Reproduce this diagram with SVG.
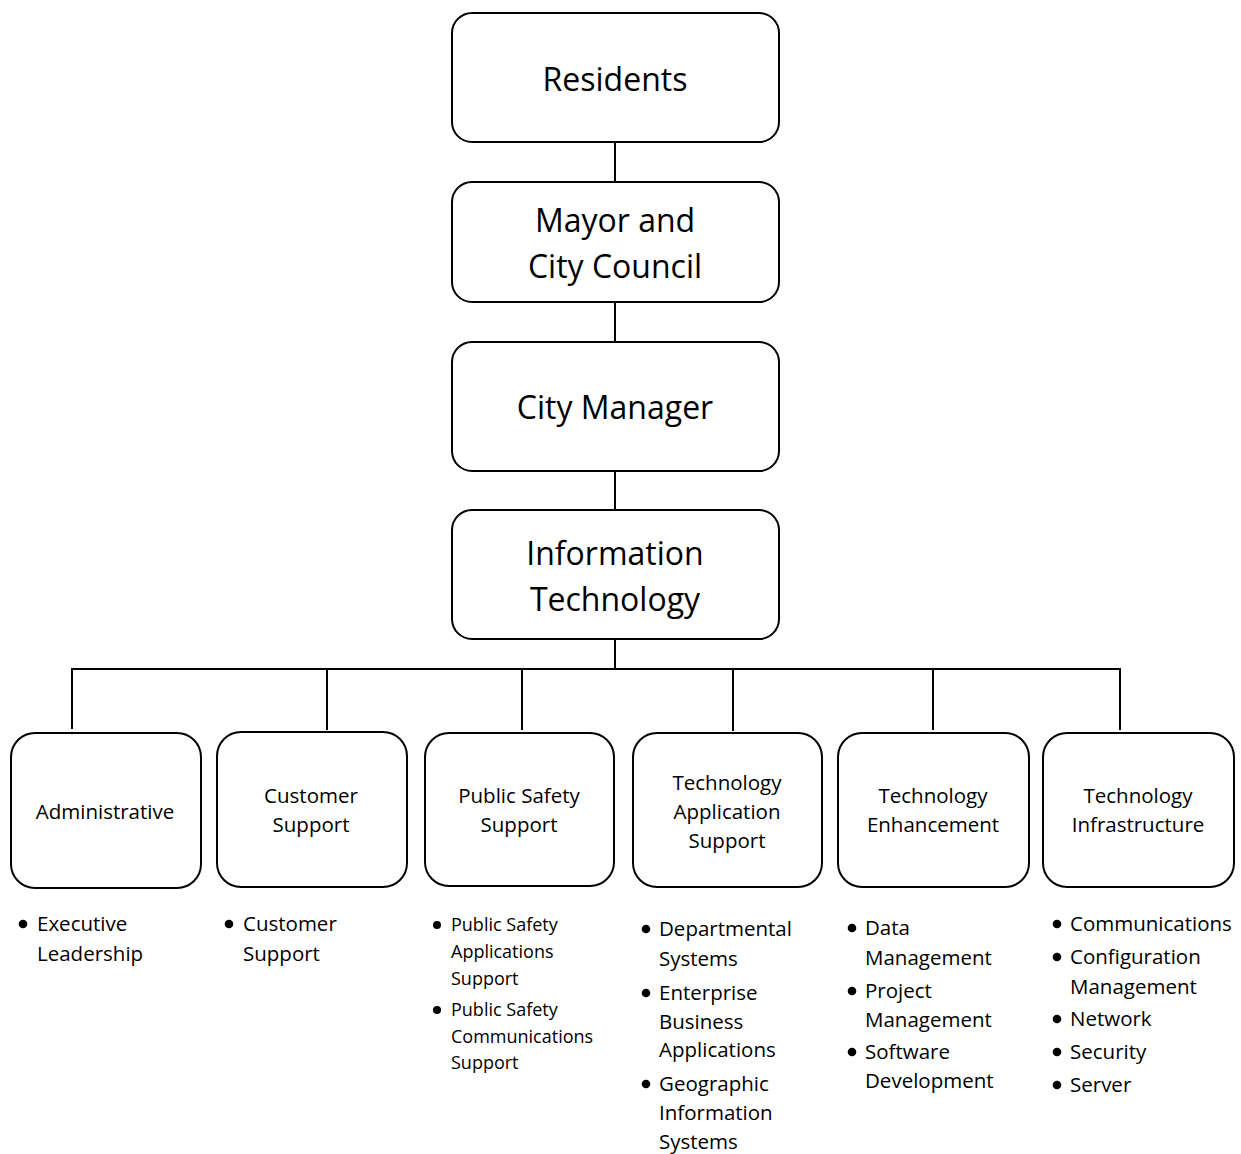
<svg xmlns="http://www.w3.org/2000/svg" width="1241" height="1154" viewBox="0 0 1241 1154">
<style>
.box{fill:#fff;stroke:#000;stroke-width:2}
.conn{stroke:#000;stroke-width:2;fill:none}
text{font-family:"Open Sans",Lato,"Liberation Sans",sans-serif;fill:#000}
.big{font-size:32px;text-anchor:middle}
.mid{font-size:20.5px;text-anchor:middle}
.li{font-size:20.5px}
.sm{font-size:18px}
</style>
<rect width="1241" height="1154" fill="#fff"/>
<g id="connectors">
<line class="conn" x1="615" y1="142" x2="615" y2="182"/>
<line class="conn" x1="615" y1="302" x2="615" y2="342"/>
<line class="conn" x1="615" y1="471" x2="615" y2="510"/>
<line class="conn" x1="615" y1="639" x2="615" y2="669"/>
<line class="conn" x1="71" y1="669" x2="1121" y2="669"/>
<line class="conn" x1="72" y1="669" x2="72" y2="729"/>
<line class="conn" x1="327" y1="669" x2="327" y2="730"/>
<line class="conn" x1="522" y1="669" x2="522" y2="730"/>
<line class="conn" x1="733" y1="669" x2="733" y2="731"/>
<line class="conn" x1="933" y1="669" x2="933" y2="730"/>
<line class="conn" x1="1120" y1="669" x2="1120" y2="730"/>
</g>
<g id="residents">
<rect class="box" x="452" y="13" width="327" height="129" rx="20"/>
<text class="big" x="615" y="91">Residents</text>
</g>
<g id="mayor">
<rect class="box" x="452" y="182" width="327" height="120" rx="20"/>
<text class="big" x="615" y="232">Mayor and</text>
<text class="big" x="615" y="278">City Council</text>
</g>
<g id="manager">
<rect class="box" x="452" y="342" width="327" height="129" rx="20"/>
<text class="big" x="615" y="419">City Manager</text>
</g>
<g id="it">
<rect class="box" x="452" y="510" width="327" height="129" rx="20"/>
<text class="big" x="615" y="565">Information</text>
<text class="big" x="615" y="611">Technology</text>
</g>
<g id="administrative">
<rect class="box" x="11" y="733" width="190" height="155" rx="24"/>
<text class="mid" x="105" y="819">Administrative</text>
<circle cx="23" cy="924" r="4.3"/>
<text class="li" x="37" y="931">Executive</text>
<text class="li" x="37" y="961">Leadership</text>
</g>
<g id="customer-support">
<rect class="box" x="217" y="732" width="190" height="155" rx="24"/>
<text class="mid" x="311" y="803">Customer</text>
<text class="mid" x="311" y="832">Support</text>
<circle cx="229" cy="924" r="4.3"/>
<text class="li" x="243" y="931">Customer</text>
<text class="li" x="243" y="961">Support</text>
</g>
<g id="public-safety-support">
<rect class="box" x="425" y="733" width="189" height="153" rx="24"/>
<text class="mid" x="519" y="803">Public Safety</text>
<text class="mid" x="519" y="832">Support</text>
<circle cx="437" cy="925" r="4"/>
<text class="sm" x="451" y="931">Public Safety</text>
<text class="sm" x="451" y="958">Applications</text>
<text class="sm" x="451" y="985">Support</text>
<circle cx="437" cy="1010" r="4"/>
<text class="sm" x="451" y="1016">Public Safety</text>
<text class="sm" x="451" y="1043">Communications</text>
<text class="sm" x="451" y="1069">Support</text>
</g>
<g id="tech-app-support">
<rect class="box" x="633" y="733" width="189" height="154" rx="24"/>
<text class="mid" x="727" y="790">Technology</text>
<text class="mid" x="727" y="819">Application</text>
<text class="mid" x="727" y="848">Support</text>
<circle cx="646" cy="929" r="4.3"/>
<text class="li" x="659" y="936">Departmental</text>
<text class="li" x="659" y="966">Systems</text>
<circle cx="646" cy="993" r="4.3"/>
<text class="li" x="659" y="1000">Enterprise</text>
<text class="li" x="659" y="1029">Business</text>
<text class="li" x="659" y="1057">Applications</text>
<circle cx="646" cy="1084" r="4.3"/>
<text class="li" x="659" y="1091">Geographic</text>
<text class="li" x="659" y="1120">Information</text>
<text class="li" x="659" y="1149">Systems</text>
</g>
<g id="tech-enhancement">
<rect class="box" x="838" y="733" width="191" height="154" rx="24"/>
<text class="mid" x="933" y="803">Technology</text>
<text class="mid" x="933" y="832">Enhancement</text>
<circle cx="852" cy="928" r="4.3"/>
<text class="li" x="865" y="935">Data</text>
<text class="li" x="865" y="965">Management</text>
<circle cx="852" cy="991" r="4.3"/>
<text class="li" x="865" y="998">Project</text>
<text class="li" x="865" y="1027">Management</text>
<circle cx="852" cy="1052" r="4.3"/>
<text class="li" x="865" y="1059">Software</text>
<text class="li" x="865" y="1088">Development</text>
</g>
<g id="tech-infrastructure">
<rect class="box" x="1043" y="733" width="191" height="154" rx="24"/>
<text class="mid" x="1138" y="803">Technology</text>
<text class="mid" x="1138" y="832">Infrastructure</text>
<circle cx="1057" cy="924" r="4.3"/>
<text class="li" x="1070" y="931">Communications</text>
<circle cx="1057" cy="957" r="4.3"/>
<text class="li" x="1070" y="964">Configuration</text>
<text class="li" x="1070" y="994">Management</text>
<circle cx="1057" cy="1019" r="4.3"/>
<text class="li" x="1070" y="1026">Network</text>
<circle cx="1057" cy="1052" r="4.3"/>
<text class="li" x="1070" y="1059">Security</text>
<circle cx="1057" cy="1085" r="4.3"/>
<text class="li" x="1070" y="1092">Server</text>
</g>
</svg>
